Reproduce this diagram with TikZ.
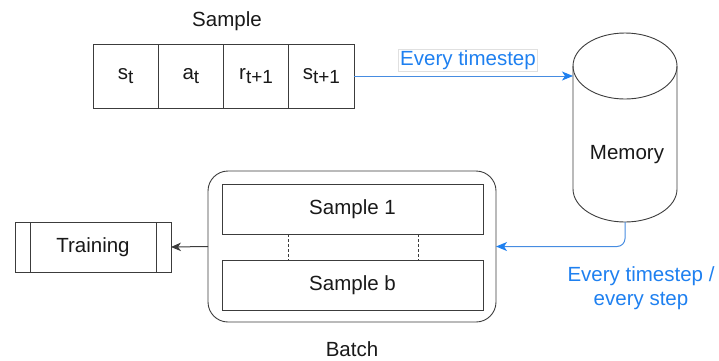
\documentclass[tikz,border=0pt]{standalone}
\usepackage{fontspec}
\setmainfont{Liberation Sans}
\usetikzlibrary{arrows.meta,positioning,calc}

\definecolor{outline}{RGB}{60,60,60}
\definecolor{inktext}{RGB}{25,25,25}
\definecolor{flowblue}{RGB}{30,128,240}
\definecolor{flowline}{RGB}{70,140,225}

% subscript set slightly smaller and lowered
\newcommand{\lowsub}[1]{\raisebox{-4pt}{\fontsize{19}{19}\selectfont #1}}

\tikzset{
  every node/.style={font=\fontsize{20.5}{24}\selectfont, text=inktext},
  box/.style={draw=outline, line width=0.9pt, inner sep=0pt, outer sep=0pt},
  cell/.style={box, minimum width=65.25pt, minimum height=64pt},
  plain/.style={inner sep=0pt, outer sep=0pt},
  bluetext/.style={text=flowblue},
  blueline/.style={draw=flowline, line width=1pt,
    -{Stealth[length=11pt,width=9pt,inset=3pt,color=flowblue]}},
  blackline/.style={draw=outline, line width=1pt,
    -{Stealth[length=10pt,width=8.5pt,inset=3pt]}},
  sep/.style={draw=outline, line width=0.9pt},
}

\begin{document}
\begin{tikzpicture}[x=1pt,y=-1pt]
\useasboundingbox (0,0) rectangle (719,360);

% sample tuple
\node (sampletitle) at (227,21) {Sample};
\node[cell] (c1) at (125.6,76) {s\lowsub{t}};
\node[cell, right=0pt of c1] (c2) {a\lowsub{t}};
\node[cell, right=0pt of c2] (c3) {r\lowsub{t+1}};
\node[cell, right=0pt of c3] (c4) {s\lowsub{t+1}};

% replay memory (cylinder)
\node[plain, minimum width=104pt, minimum height=189pt] (mem) at (625,127.5) {};
\draw[sep, fill=white]
  ([yshift=-33pt]mem.north west) -- ([yshift=33pt]mem.south west)
  arc[start angle=180, end angle=360, x radius=52pt, y radius=33pt]
  -- ([yshift=-33pt]mem.north east)
  arc[start angle=0, end angle=180, x radius=52pt, y radius=33pt] -- cycle;
\draw[sep] ([yshift=-33pt]mem.north west)
  arc[start angle=180, end angle=360, x radius=52pt, y radius=33pt];
\node (memtext) at (627,155) {Memory};

% batch
\node[box, rounded corners=20pt, minimum width=288pt, minimum height=151pt] (batch) at (352,246.5) {};
\node[box, minimum width=261pt, minimum height=50pt] (s1) at (352.5,209) {Sample 1};
\node[box, minimum width=261pt, minimum height=50pt] (sb) at (352.5,285) {Sample b};
\draw[sep, dash pattern=on 3pt off 2pt] ([xshift=-64.5pt]s1.south) -- ([xshift=-64.5pt]sb.north);
\draw[sep, dash pattern=on 3pt off 2pt] ([xshift=65.5pt]s1.south) -- ([xshift=65.5pt]sb.north);
\node (batchtext) at (352,349) {Batch};

% training
\node[box, minimum width=156pt, minimum height=50pt] (train) at (93,247) {Training};
\draw[sep] ([xshift=15pt]train.north west) -- ([xshift=15pt]train.south west);
\draw[sep] ([xshift=-15pt]train.north east) -- ([xshift=-15pt]train.south east);

% connectors
\draw[blueline] (c4.east) -- (c4.east -| mem.west);
\node[bluetext, draw=black!12, line width=0.5pt, inner sep=1.5pt] (lab1) at (468,60) {Every timestep};
\draw[blueline, rounded corners=8pt] (mem.south) |- (batch.east);
\node[bluetext, align=center] (lab2) at (641,288) {Every timestep /\\every step};
\draw[blackline] (batch.west) -- (train.east);
\end{tikzpicture}
\end{document}
